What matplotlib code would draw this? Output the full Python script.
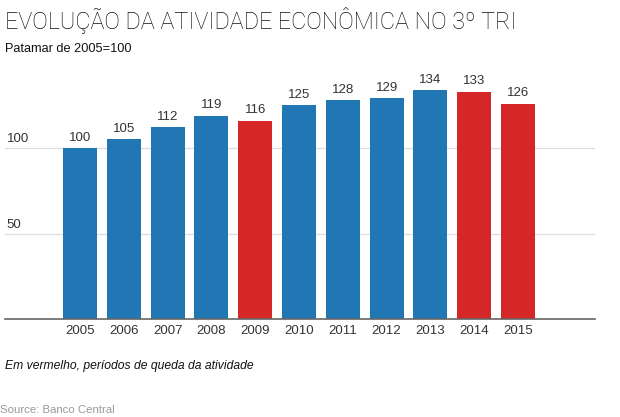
import matplotlib
matplotlib.use("Agg")
import matplotlib.pyplot as plt

years = ["2005", "2006", "2007", "2008", "2009", "2010", "2011", "2012", "2013", "2014", "2015"]
values = [100, 105, 112, 119, 116, 125, 128, 129, 134, 133, 126]
falling = [False, False, False, False, True, False, False, False, False, True, True]
yticks = [50, 100]

BLUE = "#2176b4"
RED = "#d62728"
plt.rcParams['font.family'] = ['Liberation Sans', 'DejaVu Sans']

W, H = 620, 417
fig = plt.figure(figsize=(W/100, H/100), dpi=100)
ppu = (319 - 148) / 100.0
ymax = 140
top_px = 319 - ymax * ppu
ax = fig.add_axes([5/W, (H-319)/H, 590/W, (319-top_px)/H])

x = list(range(len(years)))
colors = [RED if f else BLUE for f in falling]
ax.bar(x, values, width=0.78, color=colors, zorder=3)
for xi, v in zip(x, values):
    ax.text(xi, v + 2.5, str(v), ha="center", va="bottom", fontsize=9.5, color="#333333")

spacing = 43.8
ax.set_xlim((5-80)/spacing, (595-80)/spacing)
ax.set_ylim(0, ymax)
for t in yticks:
    ax.axhline(t, color="#dddddd", lw=0.9, zorder=1)
    ax.text(0.003, t + 1.5, str(t), transform=ax.get_yaxis_transform(), ha="left", va="bottom", fontsize=9.5, color="#333333")
ax.set_yticks([])
ax.set_xticks(x)
ax.set_xticklabels(years, fontsize=9.5, color="#333333")
ax.tick_params(axis="x", length=0, pad=4)
for s in ["top", "right", "left"]:
    ax.spines[s].set_visible(False)
ax.spines["bottom"].set_color("#666666")
ax.spines["bottom"].set_linewidth(1.2)
ax.spines["bottom"].set_zorder(4)

fig.text(5/W, 1 - 20/H, "EVOLUÇÃO DA ATIVIDADE ECONÔMICA NO 3º TRI", fontsize=16.8, color="#111111", ha="left", va="center", family=["Roboto", "DejaVu Sans"], fontweight="light")
fig.text(5/W, 1 - 49/H, "Patamar de 2005=100", fontsize=9.2, color="#111111", ha="left", va="center")
fig.text(5/W, 1 - 366/H, "Em vermelho, períodos de queda da atividade", fontsize=8.7, style="italic", color="#111111", ha="left", va="center")
fig.text(0/W, 1 - 410/H, "Source: Banco Central", fontsize=8.2, color="#999999", ha="left", va="center")

fig.savefig("out.png", dpi=100)
